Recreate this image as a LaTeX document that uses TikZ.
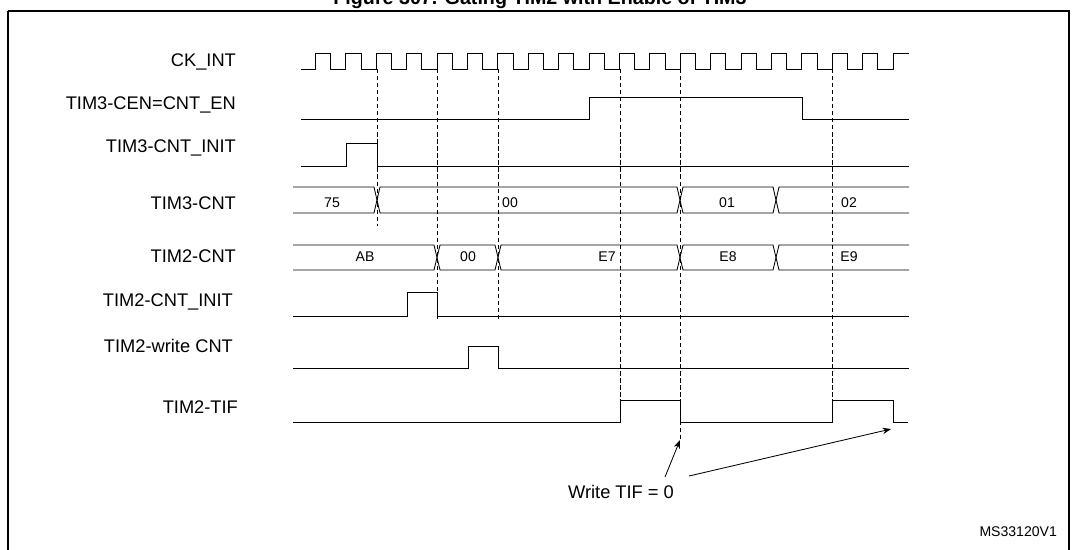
\documentclass[tikz,border=0pt]{standalone}
\usepackage{fontspec}
\setmainfont{Liberation Sans}
\usetikzlibrary{arrows.meta}

\begin{document}
\begin{tikzpicture}[x=0.025cm,y=-0.025cm,line width=0.6pt,
  siglabel/.style={anchor=east,font=\fontsize{13}{15}\selectfont},
  busval/.style={font=\fontsize{10}{12}\selectfont},
  guide/.style={densely dashed,line width=0.5pt}]
\useasboundingbox (0,0) rectangle (1077,549);
\node[font=\bfseries\fontsize{14}{16}\selectfont] (title) at (540,-1) {Figure 307. Gating TIM2 with Enable of TIM3};
\draw[line width=1.2pt] (8,11) -- (1069,11) -- (1069,560);
\draw[line width=1pt] (8,11) -- (8,560);

% signal names
\node[siglabel] (ck) at (241,62) {CK\_INT};
\node[siglabel] (cen) at (241,105) {TIM3-CEN=CNT\_EN};
\node[siglabel] (init3) at (241,148) {TIM3-CNT\_INIT};
\node[siglabel] (cnt3) at (241,203) {TIM3-CNT};
\node[siglabel] (cnt2) at (241,256) {TIM2-CNT};
\node[siglabel] (init2) at (238,302) {TIM2-CNT\_INIT};
\node[siglabel] (wr2) at (238,346) {TIM2-write CNT};
\node[siglabel] (tif) at (243,407) {TIM2-TIF};

% guides
\draw[guide] (377,69) -- (377,226);
\draw[guide] (437,69) -- (437,322);
\draw[guide] (498,69) -- (498,322);
\draw[guide] (620,69) -- (620,400);
\draw[guide] (680,69) -- (680,440);
\draw[guide] (832,69) -- (832,400);

% clock
\draw (301,69) -- (315.5,69)
  \foreach \k in {0,...,18} { -- ++(0,-16) -- ++(15.2,0) -- ++(0,16) -- ++(15.2,0) }
  -- ++(0,-16) -- (909,53);

\draw (301,119) -- (589,119) -- (589,97) -- (802,97) -- (802,119) -- (909,119);
\draw (301,166) -- (346,166) -- (346,143) -- (377,143) -- (377,166) -- (909,166);

% TIM3-CNT bus
\draw (293,187) -- (374,187) -- (380,213) -- (677,213) -- (683,187) -- (773,187) -- (779,213) -- (909,213);
\draw (293,213) -- (374,213) -- (380,187) -- (677,187) -- (683,213) -- (773,213) -- (779,187) -- (909,187);
\node[busval] (v75) at (332,203) {75};
\node[busval] (v00a) at (510,203) {00};
\node[busval] (v01) at (727,203) {01};
\node[busval] (v02) at (849,203) {02};

% TIM2-CNT bus
\draw (293,245) -- (434,245) -- (440,270) -- (495,270) -- (501,245) -- (677,245) -- (683,270) -- (773,270) -- (779,245) -- (909,245);
\draw (293,270) -- (434,270) -- (440,245) -- (495,245) -- (501,270) -- (677,270) -- (683,245) -- (773,245) -- (779,270) -- (909,270);
\node[busval] (vab) at (365,257) {AB};
\node[busval] (v00b) at (468,257) {00};
\node[busval] (ve7) at (607,257) {E7};
\node[busval] (ve8) at (728,257) {E8};
\node[busval] (ve9) at (849,257) {E9};

\draw (293,316) -- (407,316) -- (407,292) -- (437,292) -- (437,316) -- (909,316);
\draw (293,368) -- (468,368) -- (468,346) -- (498,346) -- (498,368) -- (909,368);
\draw (293,422) -- (620,422) -- (620,400) -- (680,400) -- (680,422) -- (832,422) -- (832,400) -- (893,400) -- (893,422) -- (908,422);

% annotation
\node[font=\fontsize{13}{15}\selectfont] (wtif) at (621,492) {Write TIF = 0};
\coordinate (clr1) at (680,440);
\coordinate (clr2) at (891,429);
\draw[-{Stealth[length=6pt]}] (665,477) -- (clr1);
\draw[-{Stealth[length=6pt]}] (689,476) -- (clr2);
\node[anchor=east,font=\fontsize{10}{12}\selectfont] (ref) at (1062,532) {MS33120V1};
\end{tikzpicture}
\end{document}
